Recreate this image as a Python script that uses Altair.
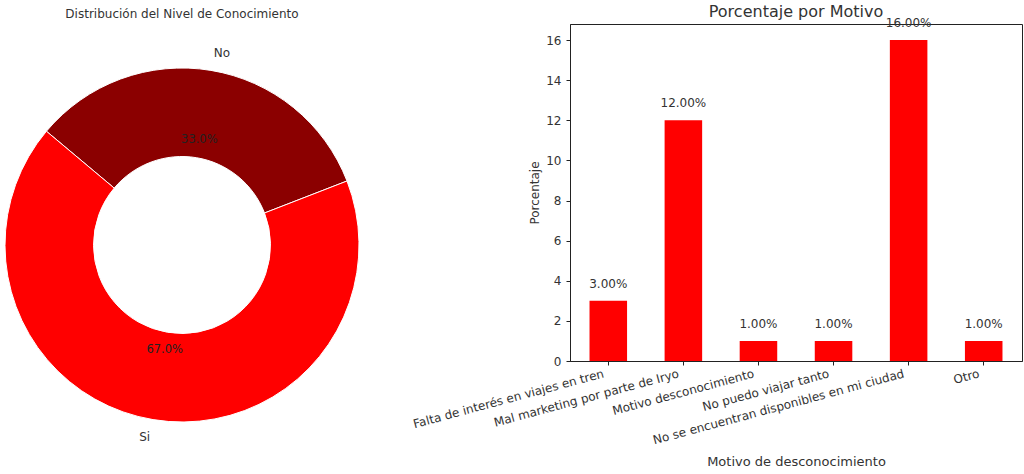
import altair as alt
import pandas as pd

# Donut: awareness level
nivel_cat = ["No", "Si"]
nivel_pct = [33.0, 67.0]
nivel_colores = ["#8B0000", "#FF0000"]

# Bars: reasons for not knowing the brand
motivos = [
    "Falta de interés en viajes en tren",
    "Mal marketing por parte de Iryo",
    "Motivo desconocimiento",
    "No puedo viajar tanto",
    "No se encuentran disponibles en mi ciudad",
    "Otro",
]
motivo_pct = [3.0, 12.0, 1.0, 1.0, 16.0, 1.0]
y_ticks = [0, 2, 4, 6, 8, 10, 12, 14, 16]

FONT = "DejaVu Sans"
TXT = "#333333"

df_nivel = pd.DataFrame({
    "nivel": nivel_cat,
    "pct": nivel_pct,
    "orden": list(range(len(nivel_cat))),
    "pct_txt": [f"{v:.1f}%" for v in nivel_pct],
})

df_motivo = pd.DataFrame({
    "motivo": motivos,
    "pct": motivo_pct,
    "pct_txt": [f"{v:.2f}%" for v in motivo_pct],
})

CX, CY = 182, 221
R_OUT = 177

base = alt.Chart(df_nivel).encode(
    theta=alt.Theta("pct:Q", stack=True,
                    scale=alt.Scale(range=[5.4105, 11.6937])),
    order=alt.Order("orden:Q"),
    x=alt.value(CX),
    y=alt.value(CY),
)

arcos = base.mark_arc(radius=R_OUT, radius2=R_OUT * 0.5,
                      stroke="white", strokeWidth=1).encode(
    color=alt.Color("nivel:N",
                    scale=alt.Scale(domain=nivel_cat, range=nivel_colores),
                    legend=None)
)

pct_lbl = base.mark_text(radius=R_OUT * 0.6, font=FONT, fontSize=11.5,
                         color="#222222").encode(text="pct_txt:N")

lbl_no = base.transform_calculate(
    t="datum.nivel == 'No' ? datum.nivel : ''"
).mark_text(radius=R_OUT * 1.1, font=FONT, fontSize=12, color=TXT,
            align="left").encode(text="t:N")

lbl_si = base.transform_calculate(
    t="datum.nivel == 'Si' ? datum.nivel : ''"
).mark_text(radius=R_OUT * 1.1, font=FONT, fontSize=12, color=TXT,
            align="right").encode(text="t:N")

donut = alt.layer(arcos, pct_lbl, lbl_no, lbl_si).properties(
    width=364,
    height=337,
    title=alt.TitleParams("Distribución del Nivel de Conocimiento",
                          fontSize=12, font=FONT, color=TXT,
                          fontWeight="normal", anchor="middle", offset=3),
    view=alt.ViewBackground(strokeOpacity=0),
)

bar_base = alt.Chart(df_motivo).encode(
    x=alt.X("motivo:N", sort=motivos,
            scale=alt.Scale(paddingInner=0.5, paddingOuter=0.26),
            axis=alt.Axis(title="Motivo de desconocimiento",
                          labelAngle=345, labelAlign="right",
                          labelBaseline="top", labelPadding=3,
                          labelOffset=-6,
                          labelLimit=500, titleFontSize=13,
                          titlePadding=10)),
    y=alt.Y("pct:Q",
            scale=alt.Scale(domain=[0, 16.8], nice=False, zero=True),
            axis=alt.Axis(title="Porcentaje", values=y_ticks,
                          labelPadding=5, titlePadding=4)),
)

barras = bar_base.mark_bar(color="#FF0000")
bar_txt = bar_base.mark_text(dy=-17, font=FONT, fontSize=12, color=TXT,
                             baseline="middle").encode(text="pct_txt:N")

bar_chart = alt.layer(barras, bar_txt).properties(
    width=452,
    height=337,
    title=alt.TitleParams("Porcentaje por Motivo", fontSize=16, font=FONT,
                          color=TXT, fontWeight="normal", anchor="middle",
                          offset=-3),
)

chart = alt.hconcat(donut, bar_chart, spacing=206, bounds="flush").properties(
    padding={"left": 0, "top": 3, "right": 0, "bottom": 0},
    background="white",
).configure_view(
    stroke="#222222", strokeWidth=1,
).configure_axis(
    grid=False,
    domainColor="#222222",
    tickColor="#222222",
    tickSize=4,
    labelColor=TXT,
    labelFont=FONT,
    labelFontSize=12,
    titleFont=FONT,
    titleFontSize=12,
    titleFontWeight="normal",
    titleColor=TXT,
)

chart.save("out.html", embed_options={"renderer": "svg", "actions": False})
